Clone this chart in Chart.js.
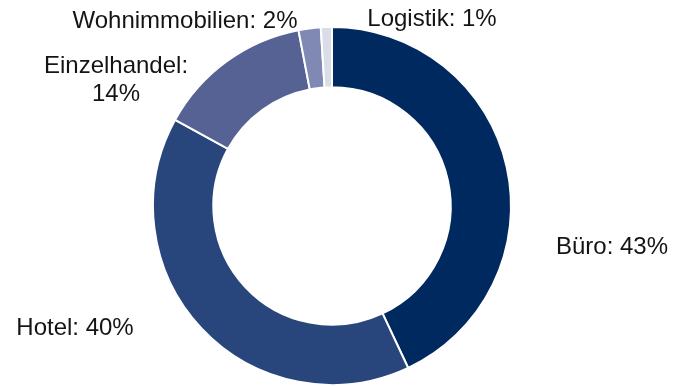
<!DOCTYPE html>
<html>
<head>
<meta charset="utf-8">
<script src="https://cdn.jsdelivr.net/npm/chart.js@4/dist/chart.umd.min.js"></script>
<style>
  html, body { margin: 0; padding: 0; background: #ffffff; }
  #wrap { width: 679px; height: 386px; position: relative; }
</style>
</head>
<body>
<div id="wrap"><canvas id="chart" width="679" height="386"></canvas></div>
<script>
// Portfolio split by property type (percent)
const categories = ['Büro', 'Hotel', 'Einzelhandel', 'Wohnimmobilien', 'Logistik'];
const shares = [43, 40, 14, 2, 1];
const sliceColors = ['#002a5f', '#28467b', '#566294', '#7f89b4', '#d8dde8'];

// Label text lines per slice, and where each label block sits relative to the ring centre
const labelLines = [
  ['Büro: 43%'],
  ['Hotel: 40%'],
  ['Einzelhandel:', '14%'],
  ['Wohnimmobilien: 2%'],
  ['Logistik: 1%']
];
const labelOffsets = [
  [280, 41],
  [-257, 122],
  [-216, -126],
  [-147, -185],
  [100, -187]
];

const sliceLabels = {
  id: 'sliceLabels',
  afterDatasetsDraw(chart) {
    const ctx = chart.ctx;
    const arcs = chart.getDatasetMeta(0).data;
    ctx.save();
    ctx.font = '24px "Liberation Sans", Arial, sans-serif';
    ctx.fillStyle = '#141414';
    ctx.textAlign = 'center';
    ctx.textBaseline = 'middle';
    const lineH = 28;
    arcs.forEach((arc, i) => {
      const lines = labelLines[i];
      const [dx, dy] = labelOffsets[i];
      const cx = arc.x + dx;
      const top = arc.y + dy - (lines.length - 1) * lineH / 2;
      lines.forEach((t, j) => ctx.fillText(t, cx, top + j * lineH));
    });
    ctx.restore();
  }
};

new Chart(document.getElementById('chart'), {
  type: 'doughnut',
  data: {
    labels: categories,
    datasets: [{
      data: shares,
      backgroundColor: sliceColors,
      borderColor: '#ffffff',
      borderWidth: 2
    }]
  },
  options: {
    responsive: false,
    animation: false,
    cutout: '66.3%',
    layout: { padding: { top: 26, bottom: 0, left: 0, right: 15 } },
    plugins: {
      legend: { display: false },
      tooltip: { enabled: false }
    }
  },
  plugins: [sliceLabels]
});
</script>
</body>
</html>
